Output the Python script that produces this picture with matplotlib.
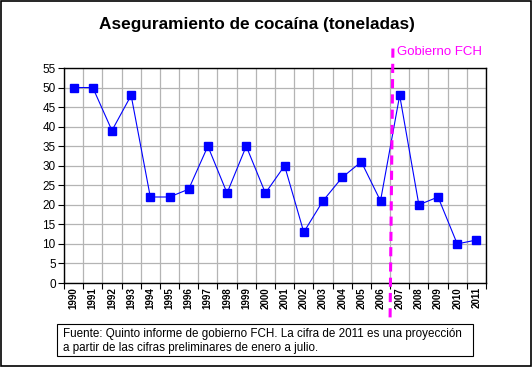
import numpy as np
import matplotlib.pyplot as plt
from matplotlib.patches import Rectangle
from matplotlib.lines import Line2D

plt.rcParams['font.family'] = ['Liberation Sans', 'DejaVu Sans']

years = [str(y) for y in range(1990, 2012)]
toneladas = [50, 50, 39, 48, 22, 22, 24, 35, 23, 35, 23, 30, 13, 21, 27, 31, 21, 48, 20, 22, 10, 11]
inicio_fch = 16.5  # boundary between 2006 and 2007
yticks = list(range(0, 60, 5))

fig = plt.figure(figsize=(5.32, 3.68), dpi=100)
ax = fig.add_axes([64 / 532, 1 - 283 / 368, 422 / 532, 215 / 368])

x = np.arange(len(years))
ax.plot(x, toneladas, color='#0000ff', lw=0.8, marker='s', markersize=6,
        markerfacecolor='#0000ff', markeredgecolor='#0000ff', zorder=3)

ax.set_xlim(-0.5, len(years) - 0.5)
ax.set_ylim(0, 55)
ax.set_yticks(yticks)
ax.set_xticks(x)
ax.set_xticklabels(years, rotation=90, fontsize=7, fontweight='bold')
ax.set_xticks(np.arange(-0.5, len(years)), minor=True)
ax.tick_params(axis='x', which='major', length=0, pad=3)
ax.tick_params(axis='x', which='minor', length=4, direction='out', width=0.8)
ax.tick_params(axis='y', length=4, direction='out', width=0.8, labelsize=8.5, pad=2)
ax.grid(True, which='minor', axis='x', color='#b4b4b4', lw=0.9)
ax.grid(True, which='major', axis='y', color='#b4b4b4', lw=0.9)
ax.set_axisbelow(True)
for s in ax.spines.values():
    s.set_linewidth(1.0)

# dashed marker for start of FCH government
ax.add_line(Line2D([inicio_fch, inicio_fch + 0.15], [-8.8, 61.5], color='#ff00ff',
                   lw=2.2, ls=(0, (3, 2)), clip_on=False, zorder=4))
ax.text(inicio_fch + 0.35, 59.2, 'Gobierno FCH', color='#ff00ff', fontsize=9.5,
        ha='left', va='center', clip_on=False)

fig.text(257 / 532, 1 - 25 / 368, 'Aseguramiento de cocaína (toneladas)', ha='center',
         va='center', fontsize=12.4, fontweight='bold')

# source note box
fig.patches.append(Rectangle((57 / 532, 1 - 356 / 368), 416 / 532, 32 / 368,
                             transform=fig.transFigure, fill=False, ec='black', lw=0.8))
fig.text(63 / 532, 1 - 341 / 368,
         'Fuente: Quinto informe de gobierno FCH. La cifra de 2011 es una proyección\n'
         'a partir de las cifras preliminares de enero a julio.',
         ha='left', va='center', fontsize=8.4, linespacing=1.2)

# outer frame
fig.patches.append(Rectangle((0.5 / 532, 2 / 368), 530 / 532, 365 / 368,
                             transform=fig.transFigure, fill=False, ec='black', lw=1.2))

fig.savefig('out.png', dpi=100)
